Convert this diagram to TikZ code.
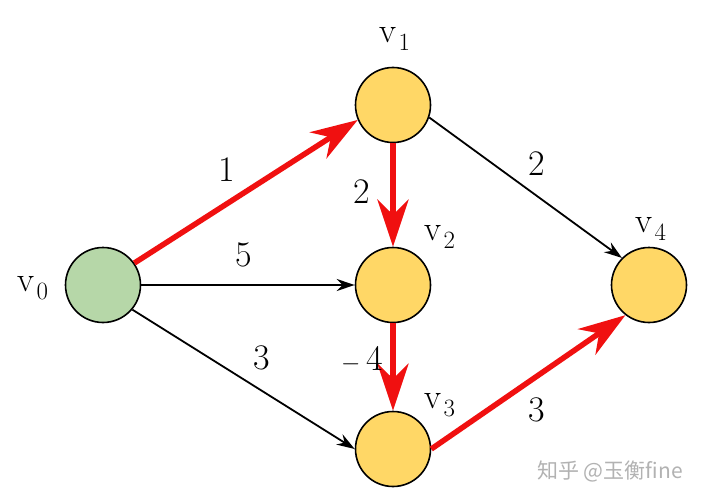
\documentclass[tikz,border=0pt]{standalone}
\usepackage{fontspec}
\usetikzlibrary{arrows.meta}
\newfontfamily\cjkf{Noto Sans CJK SC}
\definecolor{gold}{HTML}{FFD766}
\definecolor{sage}{HTML}{B6D7A8}
\definecolor{redx}{HTML}{F01010}
\newcommand{\vname}[1]{v\kern2pt$_{#1}$}
\begin{document}
\begin{tikzpicture}[x=1pt,y=-1pt,
  vert/.style={circle,draw=black,line width=1.6pt,minimum size=75pt,inner sep=0pt},
  thin arc/.style={draw=black,line width=1.8pt,-{Stealth[length=18pt,width=12pt,inset=6pt]}},
  red arc/.style={draw=redx,line width=5.5pt,-{Stealth[length=47pt,width=31pt,inset=15pt]}},
  lab/.style={font=\fontsize{36}{38}\selectfont,inner sep=0pt},
  vlab/.style={font=\fontsize{35}{37}\selectfont,inner sep=0pt}]
\useasboundingbox (0,0) rectangle (701,500);
\fill[white] (0,0) rectangle (701,500);
\node[vert,fill=sage] (v0) at (103,285) {};
\node[vert,fill=gold] (v1) at (393,105) {};
\node[vert,fill=gold] (v2) at (393,285) {};
\node[vert,fill=gold] (v3) at (393,449) {};
\node[vert,fill=gold] (v4) at (649,285) {};
\draw[red arc] (v0.35) -- (v1.203);
\draw[red arc] (v1) -- (v2);
\draw[red arc] (v2) -- (v3);
\draw[red arc] (v3.0) -- (v4.232);
\draw[thin arc] (v0) -- (v2);
\draw[thin arc] (v0.-40) -- (v3.180);
\draw[thin arc] (v1.-19) -- (v4.135);
\node[lab] (l1) at (226.5,170) {1};
\node[lab] (l2) at (243.5,255) {5};
\node[lab] (l3) at (261.5,358) {3};
\node[lab] (l4) at (361.5,192) {2};
\node[lab] (l5) at (362,359) {$-$\,4};
\node[lab] (l6) at (536.5,164) {2};
\node[lab] (l7) at (536.5,410) {3};
\node[vlab] (n0) at (33,288) {\vname{0}};
\node[vlab] (n1) at (395,39) {\vname{1}};
\node[vlab] (n2) at (440,237) {\vname{2}};
\node[vlab] (n3) at (440,405) {\vname{3}};
\node[vlab] (n4) at (651,229) {\vname{4}};
\node[font=\cjkf\fontsize{21}{22}\selectfont,text=black!30,inner sep=0pt] (wm) at (610,471) {知乎 @玉衡fine};
\end{tikzpicture}
\end{document}
